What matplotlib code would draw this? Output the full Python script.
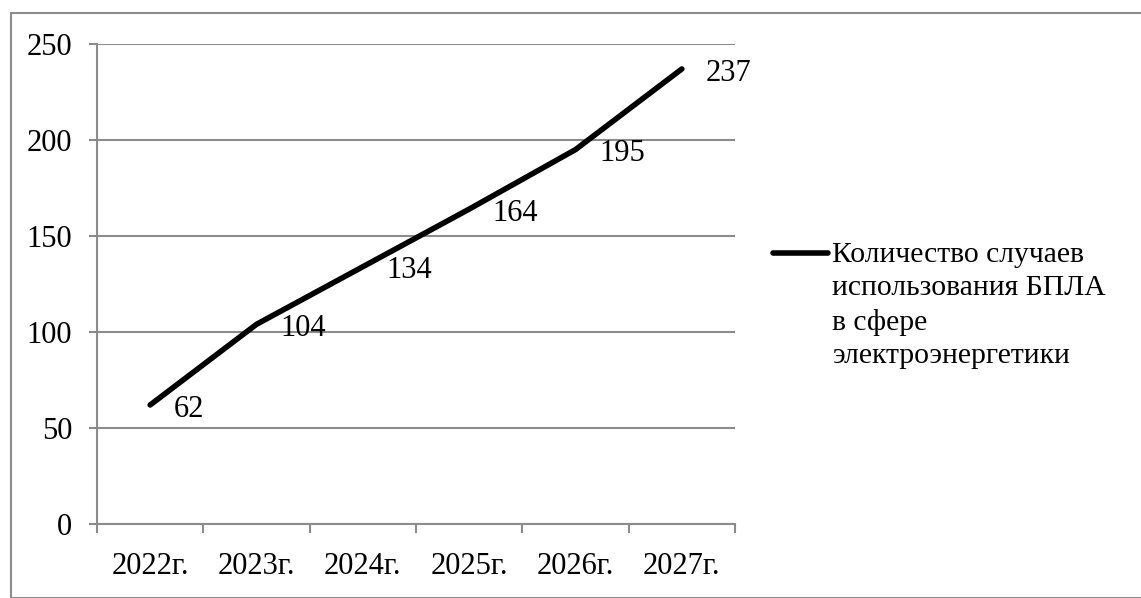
import matplotlib.pyplot as plt
from matplotlib.lines import Line2D
from matplotlib.patches import Rectangle

years = ['2022г.', '2023г.', '2024г.', '2025г.', '2026г.', '2027г.']
cases = [62, 104, 134, 164, 195, 237]
series_name = 'Количество случаев\nиспользования БПЛА\nв сфере\nэлектроэнергетики'
y_ticks = [0, 50, 100, 150, 200, 250]

plt.rcParams['font.family'] = ['Liberation Serif', 'DejaVu Serif']
grey = '#8c8c8c'
fs = 22

fig = plt.figure(figsize=(11.41, 5.98), dpi=100)
ax = fig.add_axes([97 / 1141, 74 / 598, 638 / 1141, 480 / 598])

x = list(range(len(years)))
ax.plot(x, cases, color='black', linewidth=4, solid_capstyle='round', solid_joinstyle='round')
for xi, v in zip(x, cases):
    ax.annotate(str(v), (xi, v), xytext=(17, -3), textcoords='offset points',
                ha='left', va='center', fontsize=fs)

ax.set_xlim(-0.5, len(years) - 0.5)
ax.set_ylim(0, 250)
ax.set_yticks(y_ticks)
ax.yaxis.grid(True, color=grey, linewidth=1.5)
ax.set_axisbelow(True)

# category boundaries get the tick marks, labels sit at the centres
ax.set_xticks([i - 0.5 for i in range(len(years) + 1)])
ax.set_xticklabels([])
ax.set_xticks(x, minor=True)
ax.set_xticklabels(years, minor=True, fontsize=fs)
ax.tick_params(axis='x', which='major', length=6.5, width=1.5, color=grey)
ax.tick_params(axis='x', which='minor', length=0, pad=20)
ax.tick_params(axis='y', length=6, width=1.5, color=grey, labelsize=fs, pad=12)

for side in ['top', 'right']:
    ax.spines[side].set_visible(False)
for side in ['left', 'bottom']:
    ax.spines[side].set_color(grey)
    ax.spines[side].set_linewidth(1.5)

# legend drawn by hand so the marker lines up with the first text row
fig.add_artist(Line2D([773 / 1141, 828 / 1141], [1 - 253 / 598, 1 - 253 / 598],
                      color='black', linewidth=4, solid_capstyle='round'))
fig.text(832 / 1141, 1 - 242 / 598, series_name, ha='left', va='top',
         fontsize=21.3, linespacing=1.36)

fig.add_artist(Rectangle((11 / 1141, 0), 1.2, 1 - 13 / 598, transform=fig.transFigure,
                         fill=False, edgecolor=grey, linewidth=1.5))

fig.savefig('out.png', dpi=100)
